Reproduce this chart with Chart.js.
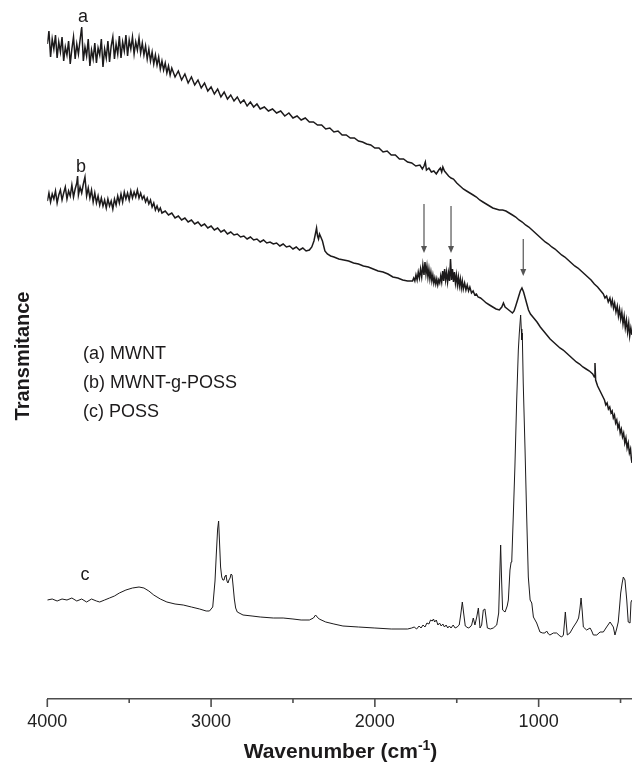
<!DOCTYPE html>
<html>
<head>
<meta charset="utf-8">
<script src="https://cdn.jsdelivr.net/npm/chart.js@4.4.0/dist/chart.umd.min.js"></script>
<style>
  html, body { margin: 0; padding: 0; background: #fff; }
</style>
</head>
<body>
<canvas id="chart" width="632" height="763"></canvas>
<script>
// FTIR spectra: [wavenumber (cm-1), transmittance (arb. units, curves offset)]
var seriesA = [
  [4000,655],[3990,668],[3980,642],[3970,660],[3960,650],[3950,664],[3940,641],[3930,657],[3920,647],[3910,662],
  [3900,638],[3890,652],[3880,644],[3870,658],[3860,635],[3850,650],[3840,662],[3830,640],[3820,655],[3810,645],
  [3800,659],[3790,672],[3780,638],[3770,652],[3760,643],[3750,660],[3740,633],[3730,649],[3720,640],[3710,656],
  [3700,636],[3690,651],[3680,644],[3670,660],[3660,632],[3650,650],[3640,641],[3630,658],[3620,637],[3610,653],
  [3600,662],[3590,640],[3580,655],[3570,645],[3560,663],[3550,641],[3540,657],[3530,648],[3520,664],[3510,643],
  [3500,659],[3490,650],[3480,662],[3470,645],[3460,657],[3450,649],[3440,661],[3430,646],[3420,656],[3410,644],
  [3400,653],[3390,640],[3380,650],[3370,638],[3360,647],[3350,635],[3340,644],[3330,634],[3320,642],[3310,630],
  [3300,638],[3290,629],[3280,636],[3270,626],[3260,633],[3250,624],[3240,631],[3220,622],[3200,628],[3180,619],
  [3160,625],[3140,616],[3120,622],[3100,614],[3080,619],[3060,611],[3040,616],[3020,608],[3000,612],[2980,605],
  [2960,610],[2940,602],[2920,607],[2900,600],[2880,604],[2860,598],[2840,602],[2820,596],[2800,599],[2780,593],
  [2760,597],[2740,592],[2720,595],[2700,590],[2675,592],[2650,588],[2625,590],[2600,586],[2575,588],[2550,583],
  [2525,586],[2500,581],[2475,583],[2450,579],[2425,581],[2400,577],[2375,577],[2350,574],[2325,574],[2300,570],
  [2275,571],[2250,567],[2225,568],[2200,564],[2175,564],[2150,561],[2125,561],[2100,558],[2075,557],[2050,555],
  [2025,554],[2000,551],[1975,551],[1950,547],[1925,548],[1900,544],[1875,544],[1850,540],[1825,540],[1800,537],
  [1775,536],[1750,533],[1725,534],[1710,530],[1700,533],[1692,537],[1685,529],[1670,531],[1655,527],[1640,528],
  [1625,525],[1610,529],[1600,531],[1592,527],[1585,532],[1575,528],[1565,526],[1550,523],[1535,521],[1520,520],
  [1500,516],[1480,513],[1460,510],[1440,508],[1420,506],[1400,504],[1380,502],[1360,499],[1340,497],[1320,495],
  [1300,493],[1280,491],[1260,490],[1240,489],[1220,489],[1200,488],[1180,486],[1160,484],[1140,482],[1120,479],
  [1100,477],[1080,474],[1060,472],[1040,469],[1020,466],[1000,463],[980,460],[960,457],[940,455],[920,452],
  [900,450],[880,447],[860,444],[840,442],[820,439],[800,436],[780,433],[760,431],[740,428],[720,425],
  [700,422],[680,419],[660,415],[640,412],[620,408],[605,405],[595,401],[585,403],[575,397],[565,401],
  [557,394],[550,399],[543,391],[536,396],[528,387],[520,393],[513,383],[506,390],[499,380],[492,387],
  [485,375],[478,383],[471,371],[464,379],[457,367],[450,376],[444,363],[437,371],[430,364]
];
var seriesB = [
  [4000,498],[3990,506],[3980,497],[3970,505],[3960,500],[3950,508],[3940,496],[3930,504],[3920,509],[3910,499],
  [3900,506],[3890,512],[3880,500],[3870,508],[3860,503],[3850,514],[3840,502],[3830,510],[3820,516],[3815,523],
  [3810,504],[3800,512],[3790,506],[3780,515],[3770,522],[3760,503],[3750,511],[3740,501],[3730,509],[3720,497],
  [3710,506],[3700,496],[3690,503],[3680,494],[3670,501],[3660,493],[3650,499],[3640,491],[3630,500],[3620,493],
  [3610,498],[3600,490],[3590,500],[3580,494],[3570,503],[3560,496],[3550,505],[3540,497],[3530,507],[3520,500],
  [3510,506],[3500,499],[3490,508],[3480,501],[3470,507],[3460,502],[3450,509],[3440,501],[3430,506],[3420,500],
  [3410,503],[3400,497],[3390,501],[3380,495],[3370,499],[3360,492],[3350,496],[3340,489],[3330,493],[3320,488],
  [3310,491],[3300,486],[3280,488],[3260,484],[3240,486],[3220,481],[3200,483],[3180,479],[3160,481],[3140,477],
  [3120,479],[3100,475],[3080,477],[3060,473],[3040,475],[3020,471],[3000,473],[2980,469],[2960,471],[2940,467],
  [2920,469],[2900,465],[2880,467],[2860,464],[2840,465],[2820,462],[2800,463],[2780,460],[2760,462],[2740,459],
  [2720,460],[2700,457],[2680,459],[2660,456],[2640,457],[2620,455],[2600,456],[2580,453],[2560,455],[2540,452],
  [2520,453],[2500,450],[2480,452],[2460,449],[2440,451],[2420,448],[2400,449],[2385,452],[2372,458],[2362,466],
  [2356,471],[2350,463],[2344,460],[2338,465],[2330,462],[2320,458],[2305,448],[2290,445],[2270,443],[2250,442],
  [2220,440],[2190,439],[2160,438],[2130,436],[2100,435],[2070,433],[2040,432],[2010,430],[1980,428],[1950,427],
  [1920,425],[1890,422],[1860,421],[1830,419],[1800,418],[1770,418],[1763,421],[1756,418],[1749,424],[1742,419],
  [1735,427],[1728,421],[1721,430],[1714,422],[1707,434],[1700,424],[1694,437],[1688,425],[1682,433],[1676,422],
  [1670,430],[1664,420],[1658,427],[1652,418],[1646,424],[1640,416],[1634,421],[1628,415],[1622,420],[1616,414],
  [1610,419],[1604,416],[1598,423],[1592,417],[1586,428],[1580,418],[1574,430],[1568,419],[1562,427],[1556,417],
  [1550,426],[1544,418],[1538,440],[1532,419],[1526,430],[1520,417],[1514,427],[1508,416],[1502,424],[1496,414],
  [1490,422],[1484,413],[1478,420],[1472,411],[1466,418],[1460,410],[1452,416],[1444,409],[1436,414],[1428,408],
  [1420,412],[1410,406],[1400,408],[1390,404],[1380,405],[1370,402],[1355,401],[1340,399],[1320,396],[1300,394],
  [1280,392],[1260,390],[1240,389],[1225,392],[1215,396],[1205,392],[1190,390],[1175,388],[1160,386],[1150,388],
  [1140,393],[1125,401],[1112,408],[1102,411],[1092,407],[1082,401],[1072,395],[1062,389],[1050,385],[1030,381],
  [1010,377],[990,372],[970,368],[950,364],[930,360],[910,357],[890,354],[870,351],[850,349],[830,346],
  [810,343],[790,340],[770,337],[750,335],[730,332],[710,330],[690,328],[670,325],[660,322],[656,336],
  [652,319],[640,313],[625,308],[610,303],[598,299],[590,294],[582,296],[574,290],[566,292],[558,286],
  [551,288],[544,281],[537,284],[530,276],[523,279],[516,271],[509,275],[502,266],[495,270],[488,262],
  [481,266],[474,256],[467,261],[460,251],[453,256],[446,246],[439,250],[434,240],[430,236]
];
var seriesC = [
  [4000,99],[3970,100],[3940,98],[3910,100],[3880,99],[3850,101],[3820,98],[3790,100],[3760,97],[3730,100],
  [3700,98],[3680,97],[3650,99],[3620,101],[3590,103],[3560,106],[3520,109],[3480,111],[3440,112],[3410,111],
  [3380,108],[3350,104],[3310,100],[3270,97],[3220,95],[3170,94],[3120,92],[3070,90],[3030,88],[3010,88],
  [2990,92],[2976,118],[2968,145],[2960,170],[2954,178],[2948,155],[2942,132],[2935,122],[2928,119],[2921,119],
  [2915,123],[2909,124],[2903,118],[2897,116],[2891,119],[2884,121],[2878,125],[2872,124],[2866,114],[2858,100],
  [2850,91],[2840,87],[2805,84],[2750,83],[2700,82],[2620,81],[2560,81],[2500,80],[2450,79],[2400,79],
  [2375,81],[2362,84],[2352,82],[2340,80],[2300,77],[2250,75],[2195,73],[2100,72],[2000,71],[1900,70],
  [1800,70],[1775,71],[1760,72],[1745,70],[1730,73],[1718,71],[1706,74],[1694,72],[1682,76],[1670,75],
  [1660,79],[1650,78],[1642,80],[1635,77],[1625,79],[1615,74],[1605,76],[1595,73],[1585,75],[1575,72],
  [1565,74],[1555,71],[1545,73],[1535,71],[1522,74],[1510,71],[1498,72],[1485,74],[1476,84],[1466,97],
  [1458,86],[1448,73],[1430,71],[1418,72],[1409,74],[1399,81],[1389,74],[1378,82],[1368,91],[1358,71],
  [1348,74],[1338,89],[1328,90],[1313,71],[1295,70],[1277,71],[1256,74],[1244,86],[1238,120],[1232,154],
  [1226,118],[1220,89],[1205,87],[1192,93],[1185,99],[1175,129],[1168,137],[1164,139],[1155,182],[1145,232],
  [1134,299],[1124,349],[1118,366],[1110,384],[1106,370],[1103,359],[1100,366],[1094,316],[1083,249],[1073,182],
  [1063,122],[1052,99],[1042,96],[1032,82],[1012,76],[992,67],[975,66],[962,66],[951,68],[940,65],
  [931,64],[910,66],[890,66],[870,63],[859,62],[849,64],[843,75],[837,87],[831,75],[825,64],
  [809,66],[788,72],[768,77],[756,81],[748,90],[741,101],[734,88],[727,72],[707,69],[686,71],
  [676,68],[666,64],[645,64],[625,67],[605,67],[585,72],[564,77],[544,72],[534,64],[524,70],
  [514,77],[506,92],[499,106],[490,116],[483,122],[473,119],[462,99],[453,77],[442,76],[436,97],
  [430,99]
];

var majorTicks = [4000, 3000, 2000, 1000];
var minorTicks = [3500, 2500, 1500, 500];
var curveNames = ["(a) MWNT", "(b) MWNT-g-POSS", "(c) POSS"];

// arrows marking POSS bands on curve b: wavenumber, start and tip (y units)
var arrowWave = [1700, 1535, 1094];
var arrowFrom = [495, 493, 460];
var arrowTo = [446, 446, 423];

var FONT = '"Liberation Sans", Arial, Helvetica, sans-serif';
var INK = "#1c1a1b";

function toPoints(s) {
  return s.map(function (p) { return { x: p[0], y: p[1] }; });
}

var extras = {
  id: "extras",
  afterDraw: function (chart) {
    var ctx = chart.ctx;
    var xs = chart.scales.x, ys = chart.scales.y;
    ctx.save();

    // tick marks below the axis
    ctx.strokeStyle = "#4d4d4d";
    ctx.lineWidth = 1.6;
    majorTicks.concat(minorTicks).forEach(function (v) {
      var px = xs.getPixelForValue(v);
      var len = majorTicks.indexOf(v) >= 0 ? 8 : 4;
      ctx.beginPath();
      ctx.moveTo(px, xs.top);
      ctx.lineTo(px, xs.top + len);
      ctx.stroke();
    });

    // arrows
    ctx.strokeStyle = "#555";
    ctx.fillStyle = "#555";
    ctx.lineWidth = 1.2;
    arrowWave.forEach(function (w, i) {
      var px = xs.getPixelForValue(w);
      var y0 = ys.getPixelForValue(arrowFrom[i]);
      var y1 = ys.getPixelForValue(arrowTo[i]);
      ctx.beginPath();
      ctx.moveTo(px, y0);
      ctx.lineTo(px, y1 - 5);
      ctx.stroke();
      ctx.beginPath();
      ctx.moveTo(px - 3, y1 - 7);
      ctx.lineTo(px + 3, y1 - 7);
      ctx.lineTo(px, y1);
      ctx.closePath();
      ctx.fill();
    });

    // curve letters
    ctx.fillStyle = INK;
    ctx.font = "18px " + FONT;
    ctx.textAlign = "center";
    ctx.textBaseline = "middle";
    ctx.fillText("a", 83, 17);
    ctx.fillText("b", 81, 167);
    ctx.fillText("c", 85, 575);

    // legend text
    ctx.textAlign = "left";
    curveNames.forEach(function (t, i) {
      ctx.fillText(t, 83, 354 + i * 29);
    });

    // y title
    ctx.save();
    ctx.translate(23, 356);
    ctx.rotate(-Math.PI / 2);
    ctx.textAlign = "center";
    ctx.font = "bold 20px " + FONT;
    ctx.fillText("Transmitance", 0, 0);
    ctx.restore();

    // x title with superscript
    var big = "bold 21px " + FONT, small = "bold 14px " + FONT;
    ctx.textBaseline = "alphabetic";
    ctx.textAlign = "left";
    ctx.font = big;
    var w1 = ctx.measureText("Wavenumber (cm").width;
    var w3 = ctx.measureText(")").width;
    ctx.font = small;
    var w2 = ctx.measureText("-1").width;
    var x0 = 340.5 - (w1 + w2 + w3) / 2;
    ctx.font = big;
    ctx.fillText("Wavenumber (cm", x0, 758);
    ctx.font = small;
    ctx.fillText("-1", x0 + w1, 750);
    ctx.font = big;
    ctx.fillText(")", x0 + w1 + w2, 758);

    ctx.restore();
  }
};

var ctx = document.getElementById("chart").getContext("2d");

var chart = new Chart(ctx, {
  type: "line",
  data: {
    datasets: [
      { data: toPoints(seriesA), borderColor: INK, borderWidth: 1.5 },
      { data: toPoints(seriesB), borderColor: INK, borderWidth: 1.5 },
      { data: toPoints(seriesC), borderColor: INK, borderWidth: 1 }
    ]
  },
  options: {
    responsive: false,
    animation: false,
    events: [],
    devicePixelRatio: 1,
    layout: { padding: { left: 47.3, right: 0, top: 0, bottom: 0 } },
    elements: {
      point: { radius: 0 },
      line: { tension: 0, fill: false }
    },
    plugins: { legend: { display: false }, tooltip: { enabled: false } },
    scales: {
      x: {
        type: "linear",
        reverse: true,
        min: 430,
        max: 4000,
        afterBuildTicks: function (s) {
          s.ticks = majorTicks.map(function (v) { return { value: v }; });
        },
        afterFit: function (s) { s.height = 64; },
        ticks: {
          autoSkip: false,
          maxRotation: 0,
          padding: 12,
          color: "#222",
          font: { family: FONT, size: 18 },
          callback: function (v) { return String(v); }
        },
        grid: { display: true, drawOnChartArea: false, drawTicks: false },
        border: { display: true, color: "#4d4d4d", width: 1.6 }
      },
      y: { display: false, min: 0, max: 699 }
    }
  },
  plugins: [extras]
});
</script>
</body>
</html>
